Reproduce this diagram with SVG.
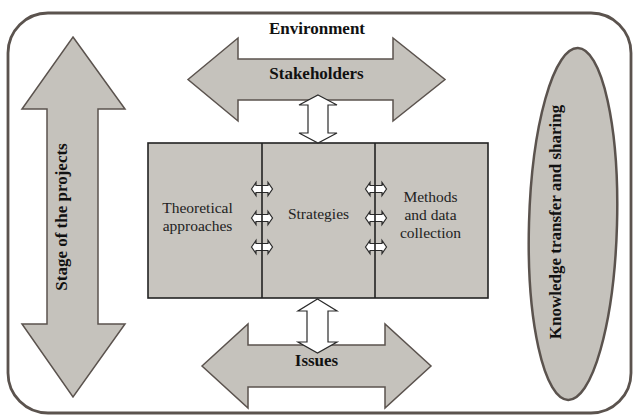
<svg xmlns="http://www.w3.org/2000/svg" xmlns:xlink="http://www.w3.org/1999/xlink" width="633" height="416" viewBox="0 0 633 416">
  <style>
    .frame { fill: #ffffff; stroke: #5b534e; stroke-width: 2.8; }
    .block { fill: #c5c2bc; stroke: #5b534e; stroke-width: 1.5; stroke-linejoin: miter; }
    .oval { fill: #c5c2bc; stroke: #5b534e; stroke-width: 2.5; }
    .panel { fill: #c8c5bf; stroke: #222222; stroke-width: 1.6; }
    .divider { stroke: #222222; stroke-width: 1.6; }
    .link { fill: #ffffff; stroke: #2a2a2a; stroke-width: 1.2; stroke-linejoin: miter; }
    .bold { font-family: "Liberation Serif", "Times New Roman", serif; font-weight: bold; font-size: 17px; fill: #111111; text-anchor: middle; }
    .plain { font-family: "Liberation Serif", "Times New Roman", serif; font-size: 15.5px; fill: #222222; text-anchor: middle; }
  </style>
  <defs>
    <!-- small two-way arrow centred on the origin -->
    <path id="tiny" class="link" d="M-10.5,0 L-6,-6.5 L-6,-3.5 L6,-3.5 L6,-6.5 L10.5,0 L6,6.5 L6,3.5 L-6,3.5 L-6,6.5 Z"/>
  </defs>

  <!-- environment frame -->
  <g id="environment">
    <rect class="frame" x="8" y="13" width="623" height="400" rx="40" ry="40"/>
    <text class="bold" x="317" y="34">Environment</text>
  </g>

  <!-- stage of the projects -->
  <g id="stage">
    <path class="block" d="M73,37 L125,109 L98,109 L98,324 L125,324 L73,397 L22,324 L47,324 L47,109 L22,109 Z"/>
    <text class="bold" transform="translate(67,217) rotate(-90)">Stage of the projects</text>
  </g>

  <!-- knowledge transfer -->
  <g id="knowledge">
    <ellipse class="oval" cx="573" cy="224" rx="44" ry="176" transform="rotate(1.6 573 224)"/>
    <text class="bold" transform="translate(561,222) rotate(-90)">Knowledge transfer and sharing</text>
  </g>

  <!-- stakeholders -->
  <g id="stakeholders">
    <path class="block" d="M188,79.5 L238,38 L238,59 L393,59 L393,38 L445,79.5 L393,121 L393,100 L238,100 L238,121 Z"/>
    <text class="bold" x="316.5" y="79">Stakeholders</text>
  </g>

  <!-- issues -->
  <g id="issues">
    <path class="block" d="M202,366 L248,324 L248,345 L385,345 L385,324 L431,366 L385,408 L385,387 L248,387 L248,408 Z"/>
    <text class="bold" x="316.5" y="366">Issues</text>
  </g>

  <!-- research core -->
  <g id="core">
    <rect class="panel" x="148" y="143" width="340" height="155"/>
    <g id="theory">
      <text class="plain" x="197.5" y="213">Theoretical</text>
      <text class="plain" x="197.5" y="231">approaches</text>
    </g>
    <g id="strategies">
      <text class="plain" x="318.5" y="219">Strategies</text>
    </g>
    <g id="methods">
      <text class="plain" x="430.5" y="202">Methods</text>
      <text class="plain" x="430.5" y="220">and data</text>
      <text class="plain" x="430.5" y="238">collection</text>
    </g>
  </g>

  <!-- connectors -->
  <g id="connectors">
    <path class="link" d="M318,95 L337,105 L328,105 L328,133 L337,133 L318,143 L299,133 L308,133 L308,105 L299,105 Z"/>
    <path class="link" d="M317.5,299 L337,311 L328,311 L328,342 L337,342 L317.5,353 L298,342 L307,342 L307,311 L298,311 Z"/>
    <use xlink:href="#tiny" x="262" y="189"/>
    <use xlink:href="#tiny" x="262" y="218"/>
    <use xlink:href="#tiny" x="262" y="247"/>
    <use xlink:href="#tiny" x="376" y="189"/>
    <use xlink:href="#tiny" x="376" y="218"/>
    <use xlink:href="#tiny" x="376" y="247"/>
    <line class="divider" x1="262" y1="143" x2="262" y2="298"/>
    <line class="divider" x1="375" y1="143" x2="375" y2="298"/>
  </g>
</svg>
